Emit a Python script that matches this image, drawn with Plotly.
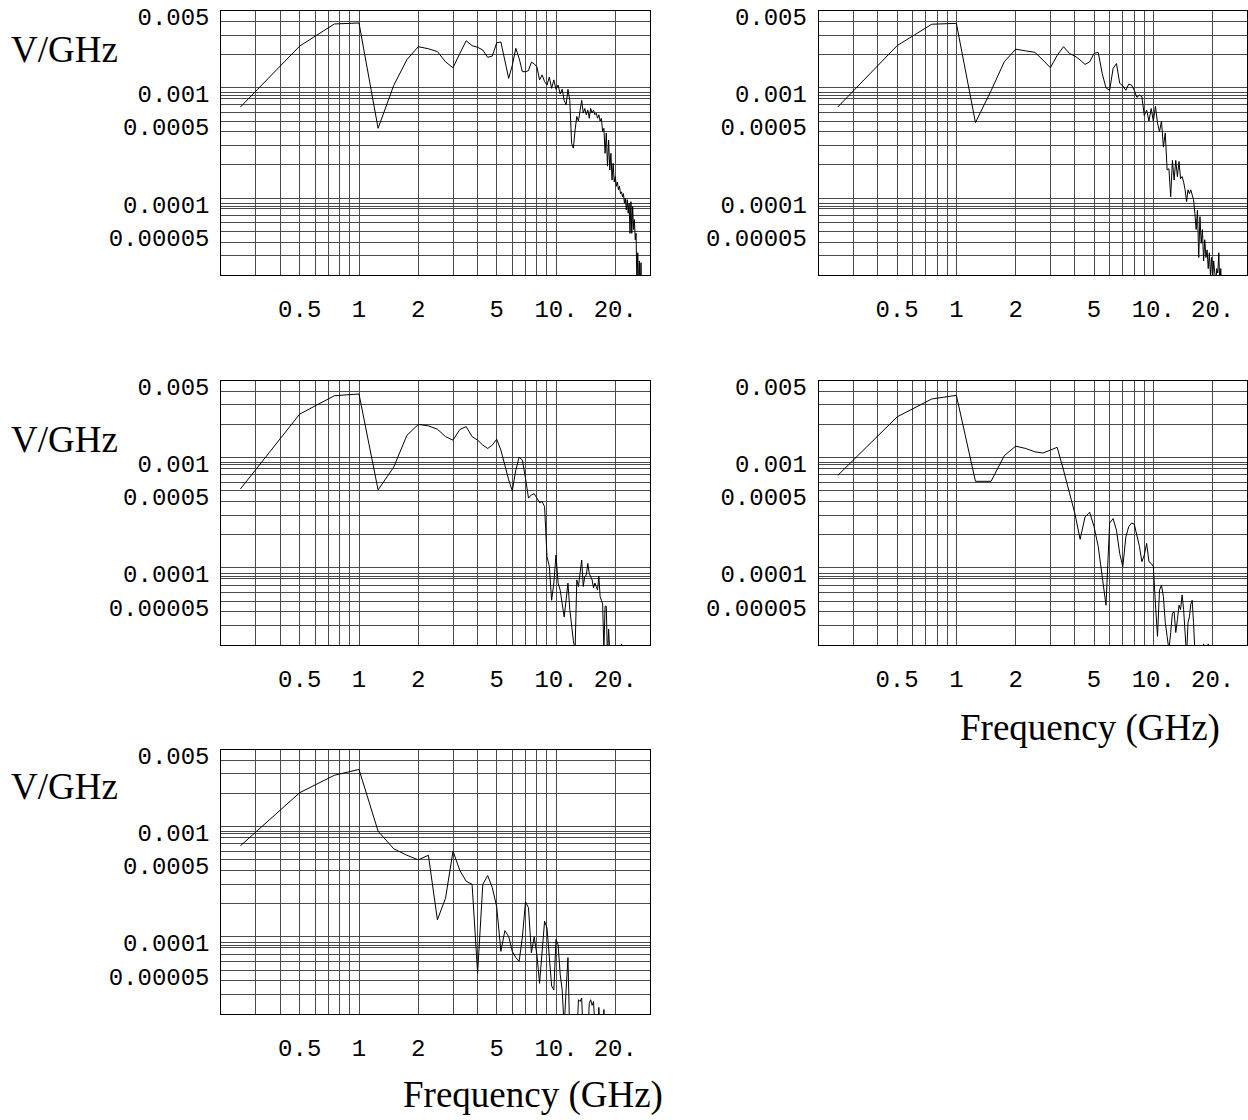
import math
import plotly.graph_objects as go

# ---------------- data ----------------
FREQ = [0.25, 0.5, 0.75, 1.0, 1.25, 1.5, 1.75, 2.0, 2.25, 2.5, 2.75, 3.0, 3.25, 3.5, 3.75, 4.0,
        4.25, 4.5, 4.75, 5.0, 5.25, 5.5, 5.75, 6.0, 6.25, 6.5, 6.75, 7.0, 7.25, 7.5, 7.75, 8.0,
        8.25, 8.5, 8.75, 9.0, 9.25, 9.5, 9.75, 10.0, 10.25, 10.5, 10.75, 11.0, 11.25, 11.5, 11.75,
        12.0, 12.25, 12.5, 12.75, 13.0, 13.25, 13.5, 13.75, 14.0, 14.25, 14.5, 14.75, 15.0, 15.25,
        15.5, 15.75, 16.0, 16.25, 16.5, 16.75, 17.0, 17.25, 17.5, 17.75, 18.0, 18.25, 18.5, 18.75,
        19.0, 19.25, 19.5, 19.75, 20.0, 20.25, 20.5, 20.75, 21.0, 21.25, 21.5, 21.75, 22.0, 22.25,
        22.5, 22.75, 23.0, 23.25, 23.5, 23.75, 24.0, 24.25, 24.5, 24.75, 25.0, 25.25, 25.5, 25.75,
        26.0, 26.25, 26.5, 26.75, 27.0, 27.25]

SPEC_1 = [0.00067, 0.00239, 0.00379, 0.00387, 0.00043, 0.00105, 0.0018, 0.00236, 0.00226, 0.00213,
          0.00172, 0.00152, 0.00205, 0.00267, 0.00241, 0.00233, 0.0022, 0.00189, 0.00194, 0.00256,
          0.0026, 0.00172, 0.00122, 0.0016, 0.00228, 0.00185, 0.0014, 0.0014, 0.00143, 0.00171,
          0.00165, 0.00155, 0.00118, 0.00131, 0.00114, 0.00106, 0.00125, 0.00099, 0.00118, 0.00097,
          0.00106, 0.00088, 0.00097, 0.00077, 0.0007, 0.00097, 0.00077, 0.000314, 0.000284, 0.000415,
          0.00055, 0.0005, 0.00063, 0.00077, 0.00059, 0.00065, 0.00057, 0.00063, 0.00053, 0.00065,
          0.00059, 0.00063, 0.00057, 0.00059, 0.00053, 0.00057, 0.0005, 0.00053, 0.0004, 0.00043,
          0.000255, 0.00039, 0.000195, 0.000335, 0.00018, 0.000255, 0.000146, 0.000207, 0.00014,
          0.000157, 0.000128, 0.00014, 0.000119, 0.000128, 0.00011, 0.000114, 0.000103, 0.00011,
          0.00009, 0.0001, 0.000078, 0.000097, 0.000073, 0.00009, 0.000048, 0.000093, 0.000048,
          0.000084, 0.000052, 0.000064, 0.000042, 0.000048, 0.000015, 0.000032, 0.000015, 0.000027,
          0.000012, 0.000026, 0.00001]

SPEC_2 = [0.00067, 0.00241, 0.00377, 0.00384, 0.000485, 0.00094, 0.00172, 0.00224, 0.00216, 0.0021,
          0.00179, 0.00152, 0.00197, 0.00236, 0.00205, 0.00194, 0.00179, 0.00163, 0.00172, 0.00205,
          0.0021, 0.00135, 0.001, 0.00095, 0.0015, 0.00166, 0.0011, 0.00104, 0.00095, 0.00108,
          0.00106, 0.00095, 0.00082, 0.00086, 0.00083, 0.00056, 0.00063, 0.0005, 0.00065, 0.0005,
          0.00068, 0.00048, 0.0004, 0.0005, 0.00029, 0.00039, 0.00018, 0.000185, 0.000103, 0.00022,
          0.000146, 0.00022, 0.000157, 0.000215, 0.00015, 0.000157, 0.00014, 0.000119, 0.000093,
          0.000119, 0.00011, 0.000119, 0.000107, 0.000097, 0.000073, 0.000052, 0.000078, 0.000029,
          0.000068, 0.000039, 0.000052, 0.000027, 0.000042, 0.000029, 0.000034, 0.000023, 0.000032,
          0.00002, 0.000029, 0.000018, 0.000027, 0.000023, 0.000017, 0.000023, 0.000021, 0.000032,
          0.000017, 0.000023, 0.000015, 0.000019, 0.000012, 0.00001]

SPEC_3 = [0.00052, 0.00248, 0.00364, 0.00377, 0.00051, 0.00082, 0.00159, 0.002, 0.00194, 0.00181,
          0.00155, 0.00144, 0.0018, 0.00191, 0.00155, 0.00144, 0.0013, 0.00121, 0.0013, 0.00147,
          0.00117, 0.00083, 0.00063, 0.0005, 0.00077, 0.00101, 0.00095, 0.00065, 0.00043, 0.00046,
          0.00047, 0.00043, 0.00039, 0.0004, 0.00036, 0.000127, 0.000103, 0.000051, 0.000073,
          0.000131, 0.000073, 0.000063, 0.000047, 0.000036, 0.000051, 0.000073, 0.000042, 0.000029,
          0.000022, 0.000018, 0.000078, 0.000068, 0.000089, 0.000118, 0.000068, 0.000084, 0.000086,
          0.00011, 0.000089, 0.000084, 0.000078, 0.000066, 0.000073, 0.000068, 0.000063, 0.000084,
          0.000055, 0.000051, 0.000047, 0.000018, 0.000045, 0.000045, 0.000015, 0.000028, 0.000012,
          0.00001, 0.00001, 0.00001, 0.00001, 0.00001, 0.00001, 0.00001, 0.00001, 0.00001, 0.000012,
          0.0000205, 0.000012]

SPEC_4 = [0.00069, 0.00234, 0.0034, 0.00367, 0.00061, 0.00061, 0.00104, 0.00127, 0.00121, 0.00113,
          0.0011, 0.00117, 0.00124, 0.00077, 0.00047, 0.00031, 0.000182, 0.00029, 0.00032, 0.000237,
          0.000157, 0.000084, 0.000046, 0.000255, 0.00028, 0.00022, 0.000135, 0.000103, 0.00019,
          0.000237, 0.000255, 0.00025, 0.000198, 0.000157, 0.000114, 0.000131, 0.000167, 0.000114,
          0.00011, 0.000103, 0.000047, 0.000024, 0.000063, 0.00007, 0.000055, 0.000032, 0.000024,
          0.000018, 0.000026, 0.000039, 0.00004, 0.000026, 0.000034, 0.000046, 0.000042, 0.000057,
          0.000042, 0.000029, 0.000016, 0.000032, 0.000036, 0.000047, 0.000051, 0.000032, 0.000015,
          0.00001, 0.00001, 0.00001, 0.00001, 0.00001, 0.000012, 0.0000205, 0.000012, 0.00001,
          0.000012, 0.0000205, 0.000012]

SPEC_5 = [0.00067, 0.00203, 0.00292, 0.0033, 0.00091, 0.00063, 0.00055, 0.0005, 0.00055, 0.000143,
          0.000225, 0.0006, 0.0004, 0.00032, 0.0003, 0.000047, 0.0003, 0.00036, 0.00028, 0.000188,
          0.000074, 0.000114, 0.000101, 0.000074, 0.000065, 0.00006, 0.0001, 0.000208, 0.000184,
          0.000072, 0.0001, 0.000069, 0.000038, 0.000074, 0.000139, 0.000121, 0.000069, 0.000036,
          0.000033, 0.000095, 0.000085, 0.000046, 0.000033, 0.000015, 0.000033, 0.000065, 0.000012,
          0.00001, 0.00001, 0.00001, 0.000012, 0.000027, 0.000026, 0.000028, 0.000012, 0.00001,
          0.00001, 0.000012, 0.000025, 0.000027, 0.000024, 0.000026, 0.000012, 0.00001, 0.000012,
          0.000023, 0.000012, 0.00001, 0.000012, 0.000022, 0.000012, 0.00001]

SERIES = [SPEC_1, SPEC_2, SPEC_3, SPEC_4, SPEC_5]

X_GRID = [0.2, 0.3, 0.4, 0.5, 0.6, 0.7, 0.8, 0.9, 1, 2, 3, 4, 5, 6, 7, 8, 9, 10, 20, 30]
X_TEXT = ["", "", "", "0.5", "", "", "", "", "1", "2", "", "", "5", "", "", "", "", "10.", "20.", ""]
Y_GRID = [2e-5, 3e-5, 4e-5, 5e-5, 6e-5, 7e-5, 8e-5, 8.4e-5, 9e-5, 1e-4,
          2e-4, 3e-4, 4e-4, 5e-4, 6e-4, 7e-4, 8e-4, 8.6e-4, 9e-4, 1e-3,
          2e-3, 3e-3, 4e-3, 5e-3]
Y_TEXT = ["", "", "", "0.00005", "", "", "", "", "", "0.0001",
          "", "", "", "0.0005", "", "", "", "", "", "0.001",
          "", "", "", "0.005"]
X_RANGE = [0.2, 30]
Y_RANGE = [2e-5, 5e-3]

Y_TITLE = "V/GHz"
X_TITLE = "Frequency (GHz)"

# ---------------- layout ----------------
W, H = 1248, 1120
COLS = [(221.3, 650.0), (818.7, 1247.3)]
ROWS = [(10.7, 275.3), (380.5, 645.1), (749.5, 1014.1)]
PANELS = [(0, 0), (0, 1), (1, 0), (1, 1), (2, 0)]

GRID_COLOR = "#4a4a4a"
TICK_FONT = dict(family="Liberation Mono, Courier New, monospace", size=24, color="black")
TITLE_FONT = dict(family="Liberation Serif, Times New Roman, serif", size=37, color="black")

fig = go.Figure()
layout = dict(width=W, height=H, margin=dict(l=0, r=0, t=0, b=0, autoexpand=False),
              paper_bgcolor="white", plot_bgcolor="white", showlegend=False)

for i, ((r, c), vals) in enumerate(zip(PANELS, SERIES), start=1):
    sx = "" if i == 1 else str(i)
    fig.add_trace(go.Scatter(x=FREQ[:len(vals)], y=vals, mode="lines",
                             line=dict(color="black", width=1),
                             xaxis="x" + sx, yaxis="y" + sx, hoverinfo="skip"))
    x0, x1 = COLS[c]
    y0, y1 = ROWS[r]
    layout["xaxis" + sx] = dict(
        type="log", range=[math.log10(X_RANGE[0]), math.log10(X_RANGE[1])],
        domain=[x0 / W, x1 / W], anchor="y" + sx, automargin=False,
        tickmode="array", tickvals=X_GRID, ticktext=X_TEXT, ticks="",
        showgrid=True, gridcolor=GRID_COLOR, gridwidth=1, zeroline=False,
        showline=True, linecolor="black", linewidth=1, mirror=True,
        tickfont=TICK_FONT, ticklabelstandoff=12, ticklabeloverflow="allow")
    layout["yaxis" + sx] = dict(
        type="log", range=[math.log10(Y_RANGE[0]), math.log10(Y_RANGE[1])],
        domain=[1 - y1 / H, 1 - y0 / H], anchor="x" + sx, automargin=False,
        tickmode="array", tickvals=Y_GRID, ticktext=Y_TEXT, ticks="",
        showgrid=True, gridcolor=GRID_COLOR, gridwidth=1, zeroline=False,
        showline=True, linecolor="black", linewidth=1, mirror=True,
        tickfont=TICK_FONT, ticklabelstandoff=6, ticklabelshift=6,
        ticklabeloverflow="allow")

annotations = []
for yc in (50, 440, 786):
    annotations.append(dict(text=Y_TITLE, x=64 / W, y=1 - yc / H, xref="paper", yref="paper",
                            showarrow=False, xanchor="center", yanchor="middle", font=TITLE_FONT))
for xc, yc in ((1090, 728), (533, 1095)):
    annotations.append(dict(text=X_TITLE, x=xc / W, y=1 - yc / H, xref="paper", yref="paper",
                            showarrow=False, xanchor="center", yanchor="middle", font=TITLE_FONT))
layout["annotations"] = annotations

fig.update_layout(**layout)
fig.write_html("out.html", config={"displayModeBar": False},
               post_script="document.body.style.margin='0px';")
